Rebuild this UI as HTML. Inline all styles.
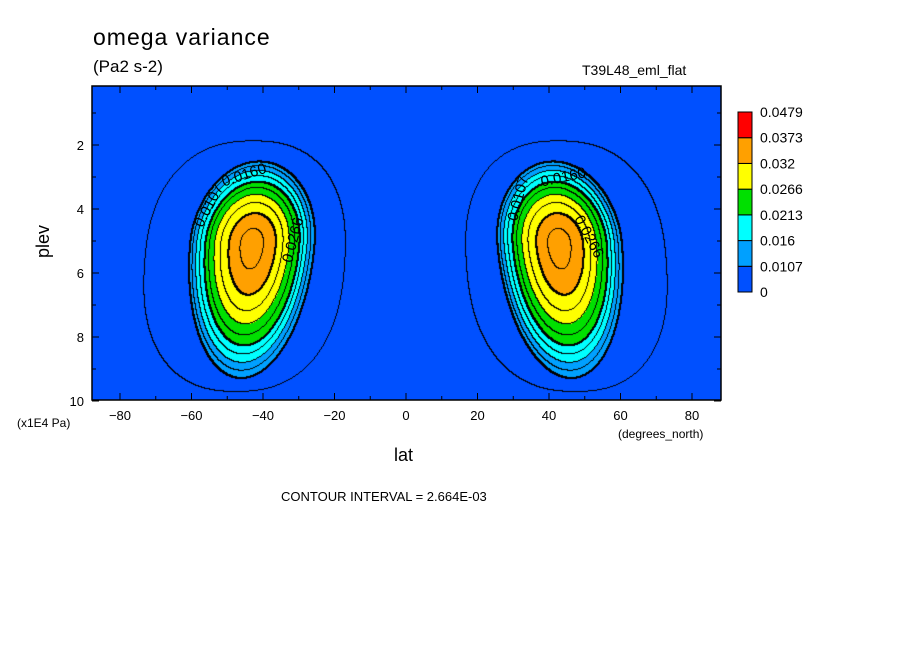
<!DOCTYPE html>
<html><head><meta charset="utf-8">
<style>
body{margin:0;background:#fff;width:904px;height:654px;overflow:hidden;position:relative;font-family:"Liberation Sans",sans-serif;}
.t{position:absolute;white-space:nowrap;color:#000;}
canvas{position:absolute;left:0;top:0;}
svg{position:absolute;left:0;top:0;}
</style></head><body>
<canvas id="c" width="904" height="654"></canvas>
<svg id="s" width="904" height="654"></svg>
<div class="t" style="left:93px;top:24px;font-size:23px;letter-spacing:1px">omega variance</div>
<div class="t" style="left:93px;top:57px;font-size:17px">(Pa2 s-2)</div>
<div class="t" style="left:582px;top:62px;font-size:14px">T39L48_eml_flat</div>
<div class="t" style="left:33px;top:258px;font-size:18px;transform:rotate(-90deg);transform-origin:0 0">plev</div>
<div class="t" style="left:394px;top:445px;font-size:18px">lat</div>
<div class="t" style="left:17px;top:416px;font-size:12px">(x1E4 Pa)</div>
<div class="t" style="left:618px;top:427px;font-size:12px">(degrees_north)</div>
<div class="t" style="left:281px;top:489px;font-size:13px">CONTOUR INTERVAL = 2.664E-03</div>
<script>
const levels=[0,0.0107,0.016,0.0213,0.0266,0.032,0.0373,0.0479];
const levelLabels=["0","0.0107","0.016","0.0213","0.0266","0.032","0.0373","0.0479"];
const colors=["#0050ff","#00a0ff","#00ffff","#00e000","#ffff00","#ffa000","#ff0000"];
const contourInterval=0.002664;
const blobPeaks=[0.0355,0.0355];
const blobLats=[-43,43];
const blobPlevs=[5.1,5.1];
const tailPeaks=[0.0039,0.0039];
const tailLats=[-45,45];
const tailPlevs=[5.7,5.7];
const xTicks=[-80,-60,-40,-20,0,20,40,60,80];
const yTicks=[2,4,6,8,10];
const X0=92,X1=721,Y0=86,Y1=400;
const xs=lat=>406+lat*3.575, ys=p=>145+(p-2)*32;
const latOf=x=>(x-406)/3.575, pOf=y=>2+(y-145)/32;
function field(lat,p){
  let v=0;
  for(let i=0;i<blobPeaks.length;i++){
    const sgn=Math.sign(blobLats[i]);
    const c=blobLats[i]+sgn*0.75*(p-blobPlevs[i]);
    const d=(lat-c)*sgn;
    const sx=17.5;
    const dp=p-blobPlevs[i];
    const sp=dp<0?2.6:4.2;
    const r=Math.sqrt(d*d/(sx*sx)+dp*dp/(sp*sp));
    let core=blobPeaks[i]*(1-Math.pow(r/1.19,2));
    if(core<0.0107)core=0;
    v=Math.max(v,core);
    const ct=tailLats[i]+sgn*0.6*(p-tailPlevs[i]);
    const dt=Math.abs(lat-ct);
    const dq=p-tailPlevs[i];
    const tp=dq<0?5.7:6.0;
    v=Math.max(v,tailPeaks[i]*Math.exp(-(Math.pow(dt/41.8,2.4)+Math.pow(Math.abs(dq)/tp,2.4))));
  }
  return v;
}
const cv=document.getElementById('c'),ctx=cv.getContext('2d');
const W=X1-X0,H=Y1-Y0;
const img=ctx.createImageData(W,H);
const rgb=colors.map(h=>[parseInt(h.substr(1,2),16),parseInt(h.substr(3,2),16),parseInt(h.substr(5,2),16)]);
const K=[];
for(let j=0;j<H;j++){K.push([]);for(let i=0;i<W;i++){
  const v=field(latOf(X0+i+0.5),pOf(Y0+j+0.5));
  let b=0;for(let k=1;k<levels.length-1;k++)if(v>=levels[k])b=k;
  const q=Math.floor(v/contourInterval);K[j].push(q);
  const o=(j*W+i)*4;img.data[o]=rgb[b][0];img.data[o+1]=rgb[b][1];img.data[o+2]=rgb[b][2];img.data[o+3]=255;
}}
for(let j=0;j<H-1;j++)for(let i=0;i<W-1;i++){
  const a=K[j][i],r=K[j][i+1],d=K[j+1][i];
  if(a!==r||a!==d){
    const m=Math.max(a,r,d);
    const thick=(m%4===0);
    const pts=thick?[[0,0],[1,0],[0,1],[1,1]]:[[0,0]];
    for(const [di,dj] of pts){const o=((j+dj)*W+i+di)*4;img.data[o]=0;img.data[o+1]=0;img.data[o+2]=0;}
  }
}
ctx.putImageData(img,X0,Y0);
const ns='http://www.w3.org/2000/svg',svg=document.getElementById('s');
function el(t,a,p){const e=document.createElementNS(ns,t);for(const k in a)e.setAttribute(k,a[k]);(p||svg).appendChild(e);return e;}
let fr=el('rect',{x:X0,y:Y0,width:W,height:H,fill:'none',stroke:'#000','stroke-width':1.5});


for(let lat=-80;lat<=80;lat+=10){
  const x=xs(lat),L=lat%20===0?7:4;
  el('line',{x1:x,y1:Y1,x2:x,y2:Y1-L,stroke:'#000'});el('line',{x1:x,y1:Y0,x2:x,y2:Y0+L,stroke:'#000'});
}
xTicks.forEach(v=>{const t=el('text',{x:xs(v),y:Y1+20,'font-size':13,'text-anchor':'middle','font-family':'Liberation Sans'});t.textContent=v===0?'0':(v<0?'\u2212'+(-v):v);

});
for(let p=1;p<=10;p++){const y=ys(p),L=p%2===0?7:4;
  el('line',{x1:X0,y1:y,x2:X0+L,y2:y,stroke:'#000'});el('line',{x1:X1,y1:y,x2:X1-L,y2:y,stroke:'#000'});}
yTicks.forEach(v=>{const t=el('text',{x:X0-8,y:ys(v)+5,'font-size':13,'text-anchor':'end','font-family':'Liberation Sans'});t.textContent=v;

});
const cbX=738,cbTop=112,cbBot=292,n=colors.length,bh=(cbBot-cbTop)/n;
for(let k=0;k<n;k++){const r=el('rect',{x:cbX,y:cbBot-(k+1)*bh,width:14,height:bh,fill:colors[k],stroke:'#000','stroke-width':1});

}
levelLabels.forEach((s,k)=>{const t=el('text',{x:760,y:cbBot-k*bh+5,'font-size':14,'font-family':'Liberation Sans'});t.textContent=s;

});
const labs=[["0.0107",-57,4.6,-62],["0.0160",-51,3.3,-18],["0.0266",-32,5.7,-75],["0.0107",31,4.4,-75],["0.0160",38,3.3,-12],["0.0266",47,4.3,62]];
labs.forEach(l=>{const t=el('text',{x:xs(l[1]),y:ys(l[2]),'font-size':15,'font-family':'Liberation Sans',transform:`rotate(${l[3]} ${xs(l[1])} ${ys(l[2])})`});t.textContent=l[0];

});
</script>
</body></html>
